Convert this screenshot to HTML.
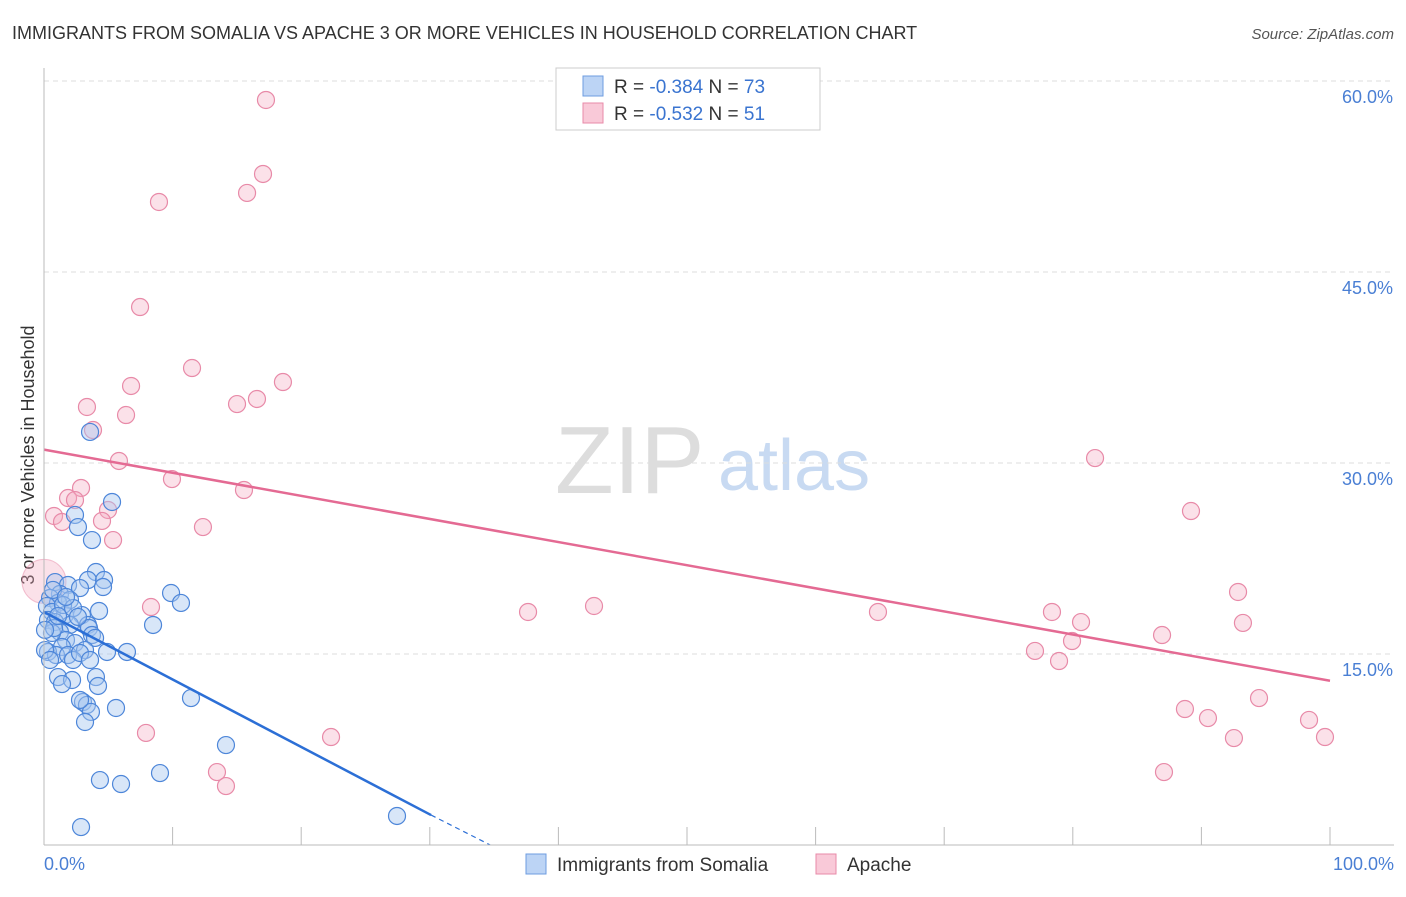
<!DOCTYPE html>
<html><head><meta charset="utf-8"><style>
body{margin:0;background:#fff;font-family:"Liberation Sans",sans-serif;}
svg text{font-family:"Liberation Sans",sans-serif;}
</style></head><body>
<svg width="1406" height="892">
<text x="12" y="39" font-size="18" fill="#333">IMMIGRANTS FROM SOMALIA VS APACHE 3 OR MORE VEHICLES IN HOUSEHOLD CORRELATION CHART</text>
<text x="1394" y="39" font-size="15" fill="#555" text-anchor="end" font-style="italic">Source: ZipAtlas.com</text>
<text x="34" y="455" font-size="18" fill="#333" text-anchor="middle" transform="rotate(-90 34 455)">3 or more Vehicles in Household</text>
<text x="555" y="493" font-size="96" fill="#ddd" font-family="Liberation Serif">ZIP</text>
<text x="718" y="490" font-size="72" fill="#c8daf2">atlas</text>
<g id="grid"></g><g id="pts"></g><g id="lines"></g>
<line x1="44" y1="68" x2="44" y2="845" stroke="#bbb"/>
<line x1="44" y1="845" x2="1394" y2="845" stroke="#bbb"/>
<text x="44" y="870" font-size="18" fill="#4a7fd4">0.0%</text>
<text x="1394" y="870" font-size="18" fill="#4a7fd4" text-anchor="end">100.0%</text>
<g>
<rect x="556" y="68" width="264" height="62" fill="#fff" stroke="#ccc"/>
<rect x="583" y="76" width="20" height="20" fill="#bcd4f5" stroke="#6e9ce0"/>
<rect x="583" y="103" width="20" height="20" fill="#f9c9d8" stroke="#e88aa8"/>
<text x="614" y="93" font-size="19" fill="#333">R = <tspan fill="#3a74d0">-0.384</tspan>   N = <tspan fill="#3a74d0">73</tspan></text>
<text x="614" y="120" font-size="19" fill="#333">R = <tspan fill="#3a74d0">-0.532</tspan>   N = <tspan fill="#3a74d0"> 51</tspan></text>
</g>
<g>
<rect x="526" y="854" width="20" height="20" fill="#bcd4f5" stroke="#6e9ce0"/>
<text x="557" y="871" font-size="19" fill="#333">Immigrants from Somalia</text>
<rect x="816" y="854" width="20" height="20" fill="#f9c9d8" stroke="#e88aa8"/>
<text x="847" y="871" font-size="19" fill="#333">Apache</text>
</g>
</svg>
<script>
const yTicks=[15,30,45,60];
const xTicks=[0,10,20,30,40,50,60,70,80,90,100];
const bluePx=[[90,432],[112,502],[75,515],[78,527],[92,540],[96,572],[55,582],[68,585],[88,580],[104,580],[80,588],[103,587],[60,594],[50,598],[70,600],[58,603],[47,606],[99,611],[52,612],[65,615],[82,615],[48,620],[55,622],[70,625],[88,625],[89,628],[60,632],[92,635],[95,638],[66,640],[75,643],[62,647],[85,650],[48,652],[56,655],[68,655],[73,660],[107,652],[127,652],[153,625],[171,593],[181,603],[58,677],[72,680],[96,677],[62,684],[98,686],[83,702],[87,705],[91,712],[116,708],[85,722],[191,698],[226,745],[160,773],[100,780],[121,784],[81,827],[397,816],[52,633],[45,650],[50,660],[80,653],[53,590],[63,605],[73,608],[90,660],[66,597],[54,628],[78,617],[58,616],[45,630],[80,700]];
const pinkPx=[[266,100],[263,174],[247,193],[159,202],[140,307],[192,368],[283,382],[131,386],[257,399],[237,404],[87,407],[126,415],[93,430],[119,461],[172,479],[244,490],[68,498],[81,488],[75,500],[108,510],[54,516],[62,522],[102,521],[113,540],[203,527],[151,607],[528,612],[594,606],[878,612],[1095,458],[1191,511],[1238,592],[1052,612],[1081,622],[1243,623],[1072,641],[1162,635],[1035,651],[1059,661],[1259,698],[1185,709],[1208,718],[1309,720],[1234,738],[1325,737],[146,733],[331,737],[217,772],[226,786],[1164,772]];
// data values (percent) derived from the picture
const blueX=bluePx.map(p=>+((p[0]-44)/12.86).toFixed(2));
const blueY=bluePx.map(p=>+((845-p[1])/12.733).toFixed(2));
const pinkX=pinkPx.map(p=>+((p[0]-44)/12.86).toFixed(2));
const pinkY=pinkPx.map(p=>+((845-p[1])/12.733).toFixed(2));
const blueTrend=[[0,18.3],[30.1,2.35],[34.7,0]];
const pinkTrend=[[0,31.05],[100,12.9]];
const NS="http://www.w3.org/2000/svg";
const X=v=>44+v*12.86, Y=v=>845-v*12.733;
function mk(t,a,p){const e=document.createElementNS(NS,t);for(const k in a)e.setAttribute(k,a[k]);p.appendChild(e);return e;}
const g=document.getElementById('grid');
yTicks.forEach(t=>{
 const l=mk('line',{x1:44,x2:1394,y1:Y(t),y2:Y(t),stroke:'#ddd','stroke-dasharray':'5,4'},g);
 
 
 const tx=mk('text',{x:1393,y:Y(t)+22,'font-size':18,fill:'#4a7fd4','text-anchor':'end'},g);
 tx.textContent=t.toFixed(1)+'%';
 
 
});
mk('line',{x1:44,x2:1394,y1:Y(60)-16,y2:Y(60)-16,stroke:'#fff'},g);
xTicks.forEach(t=>{
 const l=mk('line',{x1:X(t),x2:X(t),y1:827,y2:845,stroke:'#bbb'},g);
 
 
});
const pg=document.getElementById('pts');
const big=mk('circle',{cx:X(0),cy:Y(20.7),r:22,fill:'#f4a8c0','fill-opacity':0.35,stroke:'#e88aa8','stroke-opacity':0.5},pg);


pinkX.forEach((x,i)=>{
 const c=mk('circle',{cx:X(x),cy:Y(pinkY[i]),r:8.5,fill:'#f4a8c0','fill-opacity':0.35,stroke:'#e88aa8','stroke-width':1.2},pg);
 
 
});
blueX.forEach((x,i)=>{
 const c=mk('circle',{cx:X(x),cy:Y(blueY[i]),r:8.5,fill:'#a9c8f0','fill-opacity':0.45,stroke:'#4d86d9','stroke-width':1.2},pg);
 
 
});
const lg=document.getElementById('lines');
const b1=mk('line',{x1:X(blueTrend[0][0]),y1:Y(blueTrend[0][1]),x2:X(blueTrend[1][0]),y2:Y(blueTrend[1][1]),stroke:'#2c6fd6','stroke-width':2.5},lg);


const b2=mk('line',{x1:X(blueTrend[1][0]),y1:Y(blueTrend[1][1]),x2:X(blueTrend[2][0]),y2:Y(blueTrend[2][1]),stroke:'#2c6fd6','stroke-width':1.2,'stroke-dasharray':'5,4'},lg);


const p1=mk('line',{x1:X(pinkTrend[0][0]),y1:Y(pinkTrend[0][1]),x2:X(pinkTrend[1][0]),y2:Y(pinkTrend[1][1]),stroke:'#e46a93','stroke-width':2.5},lg);


</script>
</body></html>
